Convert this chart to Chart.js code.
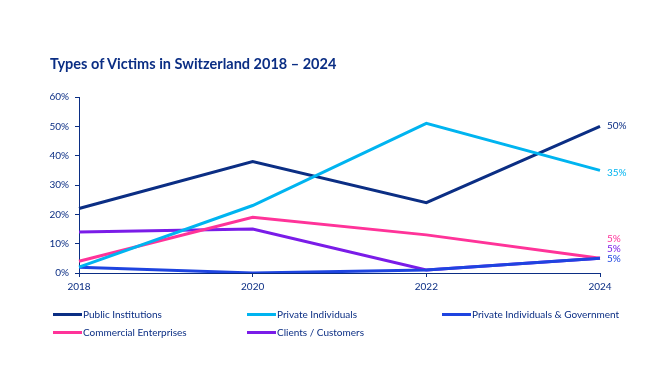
<!DOCTYPE html>
<html><head><meta charset="utf-8">
<script src="https://cdn.jsdelivr.net/npm/chart.js@4.4.1/dist/chart.umd.min.js"></script>
<style>
html,body{margin:0;padding:0;background:#fff;}
#wrap{position:relative;width:660px;height:380px;font-family:Lato,"Open Sans",sans-serif;}
#title{position:absolute;left:50px;top:55px;font-size:14.5px;font-weight:bold;color:#0b2e84;white-space:nowrap;}
#legend{position:absolute;left:0;top:0;width:660px;height:380px;pointer-events:none;}
.li{position:absolute;display:flex;align-items:center;font-size:10px;color:#0b2e84;white-space:nowrap;height:14px;}
.sw{width:29px;height:3px;margin-right:1px;}
canvas{position:absolute;left:0;top:0;}
</style></head>
<body>
<div id="wrap">
<canvas id="c" width="660" height="380"></canvas>
<div id="title">Types of Victims in Switzerland 2018 – 2024</div>
<div id="legend"></div>
</div>
<script>
const years = ['2018','2020','2022','2024'];
const yTicks = [0,10,20,30,40,50,60];
const seriesNames = ['Public Institutions','Private Individuals','Private Individuals & Government','Commercial Enterprises','Clients / Customers'];
const publicInstitutions = [22,38,24,50];
const privateIndividuals = [2,23,51,35];
const privateIndGov = [2,0,1,5];
const commercialEnterprises = [4,19,13,5];
const clientsCustomers = [14,15,1,5];
const colors = ['#0b2e84','#00b4f0','#1e44e0','#ff3399','#7a1ce8'];
const endLabels = ['50%','35%','5%','5%','5%'];
const endLabelDy = [-1,2,0,-20,-10];

const navy = '#0b2e84';
const allData = [publicInstitutions,privateIndividuals,privateIndGov,commercialEnterprises,clientsCustomers];
const order = [2,0,1,3,4];

const endLabelPlugin = {
  id:'endLabels',
  afterDatasetsDraw(chart){
    const ctx = chart.ctx;
    const xs = chart.scales.x, ys = chart.scales.y;
    ctx.save();
    ctx.font = '10px Lato, "Open Sans", sans-serif';
    ctx.textBaseline = 'middle';
    ctx.textAlign = 'left';
    allData.forEach((d,i)=>{
      const last = d.length-1;
      const x = xs.getPixelForValue(last) + 7;
      const y = ys.getPixelForValue(d[last]) + endLabelDy[i];
      ctx.fillStyle = colors[i];
      ctx.fillText(endLabels[i], x, y);
    });
    ctx.restore();
  }
};

new Chart(document.getElementById('c'), {
  type:'line',
  data:{
    labels: years,
    datasets: allData.map((d,i)=>({
      label: seriesNames[i],
      data: d,
      borderColor: colors[i],
      backgroundColor: colors[i],
      borderWidth: 3,
      pointRadius: 0,
      tension: 0,
      order: order[i]
    }))
  },
  options:{
    responsive:false,
    animation:false,
    layout:{padding:{left:0,right:60,top:97,bottom:87}},
    plugins:{legend:{display:false},title:{display:false},tooltip:{enabled:false}},
    scales:{
      x:{
        type:'category',
        offset:false,
        afterFit(s){ s.height = 20; },
        grid:{display:true,drawOnChartArea:false,drawTicks:true,tickLength:4,color:navy},
        border:{display:true,color:navy,width:1},
        ticks:{color:navy,font:{size:10,family:'Lato, "Open Sans", sans-serif'},padding:4,maxRotation:0,autoSkip:false}
      },
      y:{
        min:0,max:60,
        afterFit(s){ s.width = 79; },
        afterBuildTicks(s){ s.ticks = yTicks.map(v=>({value:v})); },
        grid:{display:true,drawOnChartArea:false,drawTicks:true,tickLength:4,color:navy},
        border:{display:true,color:navy,width:1},
        ticks:{color:navy,font:{size:10,family:'Lato, "Open Sans", sans-serif'},padding:6,callback:v=>v+'%'}
      }
    }
  },
  plugins:[endLabelPlugin]
});

const legendPos = [[53,314],[247,314],[442,314],[53,332],[247,332]];
const lg = document.getElementById('legend');
seriesNames.forEach((n,i)=>{
  const el = document.createElement('div');
  el.className='li';
  el.style.left = legendPos[i][0]+'px';
  el.style.top = (legendPos[i][1]-7)+'px';
  el.innerHTML = '<span class="sw" style="background:'+colors[i]+'"></span><span>'+n.replace('&','&amp;')+'</span>';
  lg.appendChild(el);
});
</script>
</body></html>
